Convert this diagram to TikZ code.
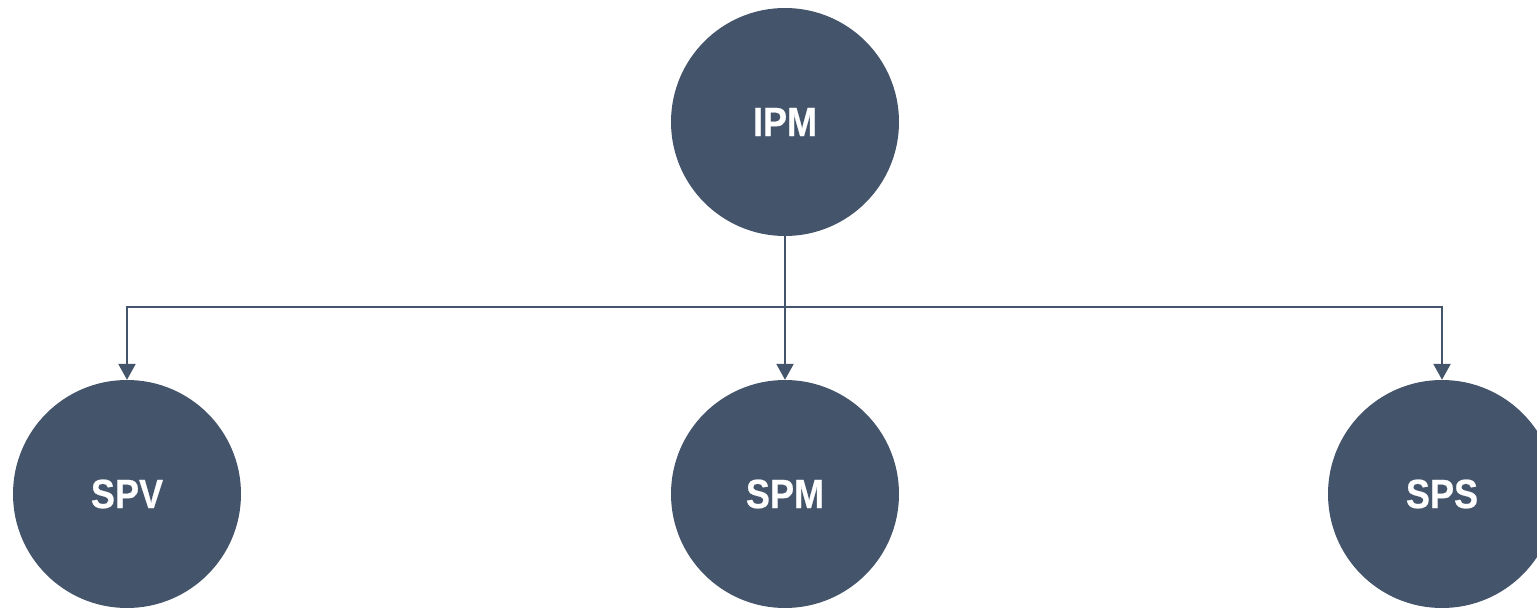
\documentclass[tikz,border=0pt]{standalone}
\usepackage{fontspec}
\setmainfont{Liberation Sans}
\newfontfamily\narrowsans[FakeStretch=0.88,FakeBold=0.5]{Liberation Sans Bold}
\usetikzlibrary{arrows.meta}
\definecolor{slate}{HTML}{44546A}

\begin{document}
\begin{tikzpicture}[x=1pt,y=-1pt,
		bubble/.style={circle, fill=slate, minimum size=228pt, inner sep=0pt, text=white, font=\narrowsans\fontsize{41}{48}\selectfont},
		link/.style={draw=slate, line width=2.5pt, -{Triangle[width=17pt,length=16pt]}}]
		\useasboundingbox (0,0) rectangle (1537,609);
		\node[bubble] (ipm) at (785,122) {IPM};
		\node[bubble] (spv) at (127,494) {SPV};
		\node[bubble] (spm) at (785,494) {SPM};
		\node[bubble] (sps) at (1442,494) {SPS};
		
		\coordinate (bus) at (785,307);
		\draw[link] (ipm.south) -- (spm.north);
		\draw[link] (bus) -| (spv.north);
		\draw[link] (bus) -| (sps.north);
	\end{tikzpicture}
\end{document}
